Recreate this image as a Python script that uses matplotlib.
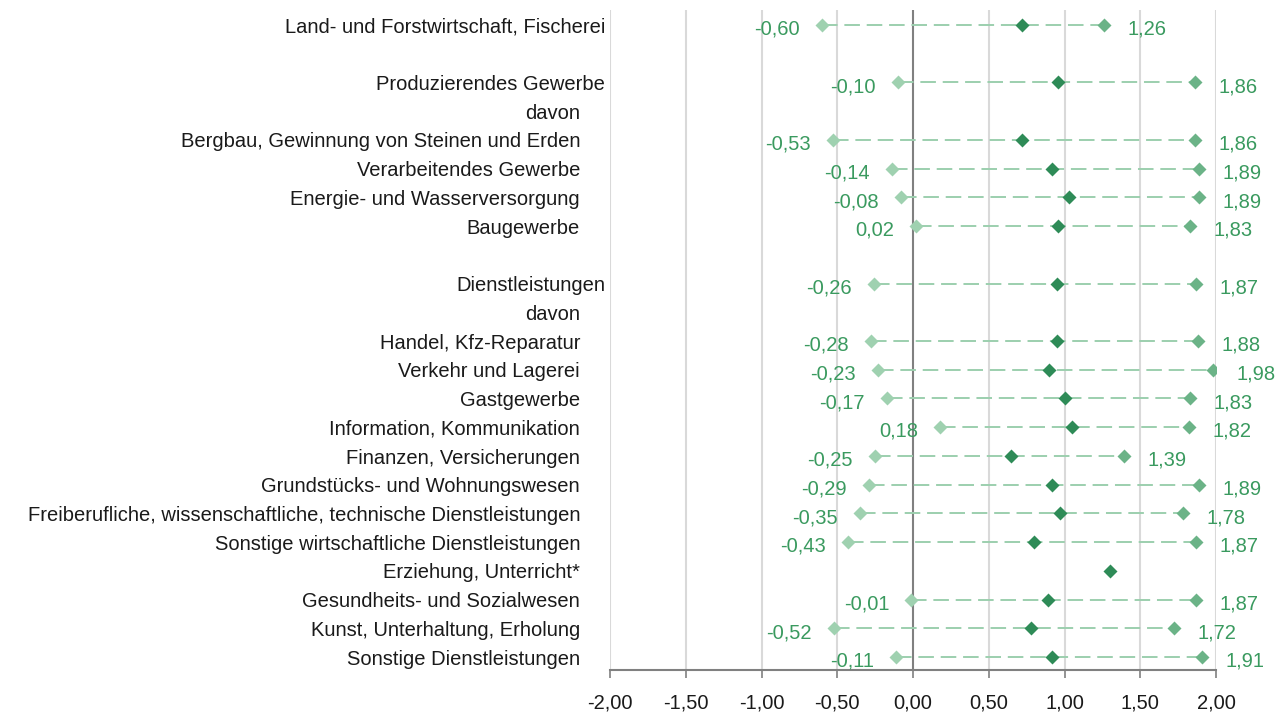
import numpy as np
import matplotlib
matplotlib.use("Agg")
import matplotlib.pyplot as plt

plt.rcParams['font.family'] = ['Liberation Sans', 'DejaVu Sans']

# rows from top to bottom; None marks an empty spacer row
labels = ["Land- und Forstwirtschaft, Fischerei", None,
          "Produzierendes Gewerbe", "davon",
          "Bergbau, Gewinnung von Steinen und Erden", "Verarbeitendes Gewerbe",
          "Energie- und Wasserversorgung", "Baugewerbe", None,
          "Dienstleistungen", "davon",
          "Handel, Kfz-Reparatur", "Verkehr und Lagerei", "Gastgewerbe",
          "Information, Kommunikation", "Finanzen, Versicherungen",
          "Grundstücks- und Wohnungswesen",
          "Freiberufliche, wissenschaftliche, technische Dienstleistungen",
          "Sonstige wirtschaftliche Dienstleistungen", "Erziehung, Unterricht*",
          "Gesundheits- und Sozialwesen", "Kunst, Unterhaltung, Erholung",
          "Sonstige Dienstleistungen"]
main_rows = ["Land- und Forstwirtschaft, Fischerei", "Produzierendes Gewerbe", "Dienstleistungen"]

nan = np.nan
low = [-0.60, nan, -0.10, nan, -0.53, -0.14, -0.08, 0.02, nan, -0.26, nan,
       -0.28, -0.23, -0.17, 0.18, -0.25, -0.29, -0.35, -0.43, nan, -0.01, -0.52, -0.11]
mid = [0.72, nan, 0.96, nan, 0.72, 0.92, 1.03, 0.96, nan, 0.95, nan,
       0.95, 0.90, 1.00, 1.05, 0.65, 0.92, 0.97, 0.80, 1.30, 0.89, 0.78, 0.92]
high = [1.26, nan, 1.86, nan, 1.86, 1.89, 1.89, 1.83, nan, 1.87, nan,
        1.88, 1.98, 1.83, 1.82, 1.39, 1.89, 1.78, 1.87, nan, 1.87, 1.72, 1.91]

xticks = [-2.0, -1.5, -1.0, -0.5, 0.0, 0.5, 1.0, 1.5, 2.0]

c_low = "#9fd1b0"
c_mid = "#2e8b57"
c_high = "#6bb387"
c_line = "#9ccfae"
c_text = "#3a9a5f"
fs = 14.5

fig = plt.figure(figsize=(12.79, 7.13), dpi=100)
ax = fig.add_axes([610 / 1279, 1 - 670 / 713, (1216 - 610) / 1279, (670 - 10) / 713])

y = np.arange(len(labels))
fmt = lambda v: ("%.2f" % v).replace(".", ",")

# gridlines
for xt in xticks:
    if xt == 0:
        ax.axvline(xt, color="#808080", lw=1.5, zorder=1)
    else:
        ax.axvline(xt, color="#d9d9d9", lw=1.5, zorder=0)

for i in range(len(labels)):
    if labels[i] is None:
        continue
    if not np.isnan(low[i]):
        ax.plot([low[i], high[i]], [y[i], y[i]], color=c_line, lw=1.4,
                dashes=(8, 3.5), zorder=2)
        ax.plot(low[i], y[i], marker="D", ms=7.5, color=c_low, mec="none", zorder=3)
        ax.plot(high[i], y[i], marker="D", ms=7.5, color=c_high, mec="none", zorder=3)
        ax.annotate(fmt(low[i]), (low[i], y[i]), xytext=(-16, -3), textcoords="offset points",
                    ha="right", va="center", color=c_text, fontsize=fs)
        ax.annotate(fmt(high[i]), (high[i], y[i]), xytext=(17, -3), textcoords="offset points",
                    ha="left", va="center", color=c_text, fontsize=fs)
    ax.plot(mid[i], y[i], marker="D", ms=7.5, color=c_mid, mec="none", zorder=4)

    xoff = -2.033 if labels[i] in main_rows else -2.198
    ax.annotate(labels[i], (xoff, y[i]), xytext=(0, -1.5), textcoords="offset points",
                ha="right", va="center", fontsize=fs, color="#1a1a1a", annotation_clip=False)

ax.set_xlim(-2, 2)
ax.set_ylim(22.45, -0.52)
ax.set_xticks(xticks)
ax.set_xticklabels([fmt(v) for v in xticks], fontsize=fs, color="#1a1a1a")
ax.tick_params(axis="x", direction="out", length=6, width=1.2, color="#808080", pad=11)
ax.set_yticks([])
for s in ["top", "right", "left"]:
    ax.spines[s].set_visible(False)
ax.spines["bottom"].set_color("#808080")
ax.spines["bottom"].set_linewidth(1.5)

fig.savefig("out.png", dpi=100)
